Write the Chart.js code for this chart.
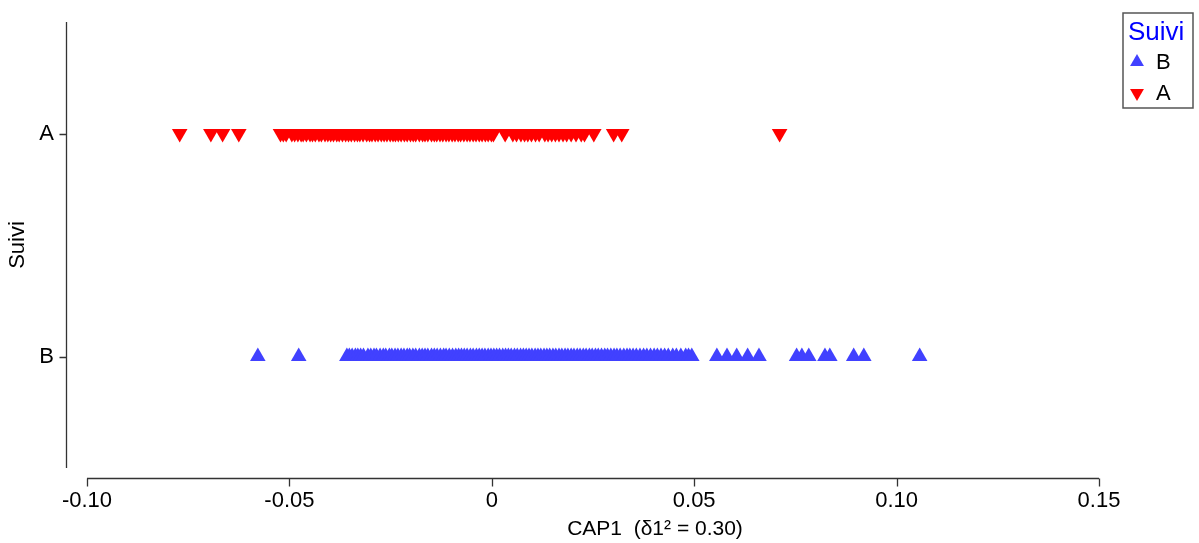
<!DOCTYPE html>
<html>
<head>
<meta charset="utf-8">
<script src="https://cdn.jsdelivr.net/npm/chart.js@4"></script>
<style>
  html, body { margin: 0; padding: 0; background: #ffffff; }
  #wrap { width: 1199px; height: 543px; position: relative; }
</style>
</head>
<body>
<div id="wrap"><canvas id="c" width="1199" height="543"></canvas></div>
<script>
// ---- data ----
const categories = ['A', 'B'];
const xTickValues = [-0.10, -0.05, 0, 0.05, 0.10, 0.15];
const xTickLabels = ['-0.10', '-0.05', '0', '0.05', '0.10', '0.15'];
const xAxisTitle = 'CAP1  (\u03B41\u00B2 = 0.30)';
const yAxisTitle = 'Suivi';
const legendTitle = 'Suivi';

const seriesA = [
  -0.0771, -0.0694, -0.0665, -0.0625,
  -0.0522, -0.0515, -0.0508, -0.0494, -0.0487, -0.0479, -0.0471, -0.0466, -0.0458, -0.0449,
  -0.0443, -0.0436, -0.0427, -0.0421, -0.0412, -0.0405, -0.0398, -0.0391, -0.0383, -0.0377,
  -0.0369, -0.0361, -0.0354, -0.0347, -0.0339, -0.0332, -0.0326, -0.0318, -0.0309, -0.0302,
  -0.0296, -0.0288, -0.0281, -0.0273, -0.0266, -0.0259, -0.0251, -0.0244, -0.0238, -0.0231,
  -0.0224, -0.0216, -0.0209, -0.0201, -0.0194, -0.0188, -0.0179, -0.0171, -0.0165, -0.0158,
  -0.0149, -0.0142, -0.0136, -0.0128, -0.0121, -0.0113, -0.0106, -0.0098, -0.0091, -0.0083,
  -0.0077, -0.0069, -0.0061, -0.0054, -0.0046, -0.0039, -0.0031, -0.0024, -0.0016, -0.0009,
  -0.0001, 0.0004, 0.0033, 0.0052, 0.0061, 0.0072, 0.0081, 0.0089, 0.0098, 0.0108, 0.0117,
  0.0131, 0.0139, 0.0148, 0.0157, 0.0166, 0.0176, 0.0185, 0.0196, 0.0208, 0.0221, 0.0229,
  0.0252, 0.0301, 0.0321, 0.0711
];
const seriesB = [
  -0.0578, -0.0477,
  -0.0358, -0.0352, -0.0345, -0.0337, -0.0331, -0.0324, -0.0317, -0.0306, -0.0299, -0.0291,
  -0.0285, -0.0276, -0.0268, -0.0262, -0.0253, -0.0247, -0.0239, -0.0232, -0.0224, -0.0217,
  -0.0209, -0.0203, -0.0195, -0.0188, -0.0179, -0.0172, -0.0165, -0.0158, -0.0149, -0.0142,
  -0.0135, -0.0127, -0.0119, -0.0113, -0.0105, -0.0097, -0.0089, -0.0082, -0.0075, -0.0068,
  -0.0061, -0.0053, -0.0046, -0.0038, -0.0031, -0.0024, -0.0017, -0.0009, -0.0002, 0.0005,
  0.0012, 0.0019, 0.0027, 0.0034, 0.0041, 0.0048, 0.0056, 0.0063, 0.0071, 0.0078, 0.0085,
  0.0092, 0.0099, 0.0107, 0.0114, 0.0121, 0.0129, 0.0136, 0.0143, 0.0151, 0.0158, 0.0166,
  0.0173, 0.0181, 0.0188, 0.0196, 0.0203, 0.0211, 0.0218, 0.0226, 0.0233, 0.0241, 0.0248,
  0.0256, 0.0263, 0.0271, 0.0279, 0.0286, 0.0294, 0.0302, 0.0309, 0.0317, 0.0326, 0.0334,
  0.0341, 0.0349, 0.0357, 0.0366, 0.0375, 0.0383, 0.0392, 0.0401, 0.0409, 0.0418, 0.0427,
  0.0436, 0.0447, 0.0456, 0.0467, 0.0479, 0.0486, 0.0494,
  0.0556, 0.0581, 0.0605, 0.0632, 0.0660, 0.0753, 0.0766, 0.0783, 0.0823, 0.0835,
  0.0894, 0.0919, 0.1057
];

// ---- styling ----
const FONT = '"Liberation Sans", Arial, sans-serif';
const BLUE = '#4141ff';
const RED = '#ff0000';
const AXIS = '#333333';

const dsB = { label: 'B', data: seriesB.map(v => ({ x: v, y: 'B' })), pointStyle: 'triangle', rotation: 0,
  backgroundColor: BLUE, borderColor: BLUE, borderWidth: 0, pointRadius: 9 };
const dsA = { label: 'A', data: seriesA.map(v => ({ x: v, y: 'A' })), pointStyle: 'triangle', rotation: 180,
  backgroundColor: RED, borderColor: RED, borderWidth: 0, pointRadius: 9 };

const axesPlugin = {
  id: 'detachedAxes',
  afterDraw(chart) {
    const ctx = chart.ctx;
    const xs = chart.scales.x, ys = chart.scales.y;
    const area = chart.chartArea;
    ctx.save();
    ctx.strokeStyle = AXIS;
    ctx.lineWidth = 1.3;
    // y axis line
    const yx = 66.5;
    ctx.beginPath();
    ctx.moveTo(yx, area.top);
    ctx.lineTo(yx, area.bottom);
    categories.forEach(c => {
      const p = Math.round(ys.getPixelForValue(categories.indexOf(c))) + 0.5;
      ctx.moveTo(yx - 7, p);
      ctx.lineTo(yx, p);
    });
    ctx.stroke();
    // x axis line
    const xy = 478.5;
    ctx.beginPath();
    ctx.moveTo(xs.getPixelForValue(xTickValues[0]), xy);
    ctx.lineTo(xs.getPixelForValue(xTickValues[xTickValues.length - 1]), xy);
    xTickValues.forEach(v => {
      const p = Math.round(xs.getPixelForValue(v)) + 0.5;
      ctx.moveTo(p, xy);
      ctx.lineTo(p, xy + 8);
    });
    ctx.stroke();
    // x axis title
    ctx.fillStyle = '#000';
    ctx.font = '21px ' + FONT;
    ctx.textAlign = 'center';
    ctx.textBaseline = 'middle';
    ctx.fillText(xAxisTitle, 655, 529);
    // legend
    ctx.strokeStyle = '#555';
    ctx.lineWidth = 1.5;
    ctx.strokeRect(1123, 13, 70, 95);
    ctx.fillStyle = '#0000ff';
    ctx.font = '26px ' + FONT;
    ctx.textAlign = 'left';
    ctx.fillText(legendTitle, 1128, 33);
    const items = [dsB, dsA];
    items.forEach((d, i) => {
      const cy = 62 + i * 31;
      ctx.fillStyle = d.backgroundColor;
      const r = 8;
      const rad = (d.rotation * Math.PI) / 180;
      ctx.beginPath();
      for (let k = 0; k < 3; k++) {
        const a = rad + k * 2 * Math.PI / 3;
        const px = 1137 + Math.sin(a) * r;
        const py = cy - Math.cos(a) * r;
        if (k === 0) ctx.moveTo(px, py); else ctx.lineTo(px, py);
      }
      ctx.closePath();
      ctx.fill();
      ctx.fillStyle = '#000';
      ctx.font = '22px ' + FONT;
      ctx.fillText(d.label, 1156, cy + 1);
    });
    ctx.restore();
  }
};

new Chart(document.getElementById('c'), {
  type: 'scatter',
  data: { datasets: [dsB, dsA] },
  options: {
    responsive: false,
    animation: false,
    events: [],
    layout: { padding: { top: 22, right: 100, left: 0, bottom: 0 } },
    plugins: { legend: { display: false }, tooltip: { enabled: false }, title: { display: false } },
    scales: {
      x: {
        type: 'linear',
        min: xTickValues[0],
        max: xTickValues[xTickValues.length - 1],
        afterBuildTicks(scale) { scale.ticks = xTickValues.map(v => ({ value: v })); },
        afterFit(scale) { scale.height = 75; scale.paddingLeft = 0; scale.paddingRight = 0; },
        grid: { display: false, drawTicks: false },
        border: { display: false },
        ticks: {
          padding: 20,
          color: '#000',
          font: { family: FONT, size: 22 },
          maxRotation: 0,
          autoSkip: false,
          callback(value) { const i = xTickValues.indexOf(value); return i >= 0 ? xTickLabels[i] : ''; }
        }
      },
      y: {
        type: 'category',
        labels: categories,
        offset: true,
        afterFit(scale) { scale.width = 87; scale.paddingTop = 0; scale.paddingBottom = 0; },
        grid: { display: false, drawTicks: false },
        border: { display: false },
        ticks: { padding: 33, color: '#000', font: { family: FONT, size: 22 } },
        title: { display: true, text: yAxisTitle, color: '#000', font: { family: FONT, size: 22 }, padding: { top: 5, bottom: 0 } }
      }
    },
    elements: { point: { hoverRadius: 9 } },
    clip: false
  },
  plugins: [axesPlugin]
});
</script>
</body>
</html>
